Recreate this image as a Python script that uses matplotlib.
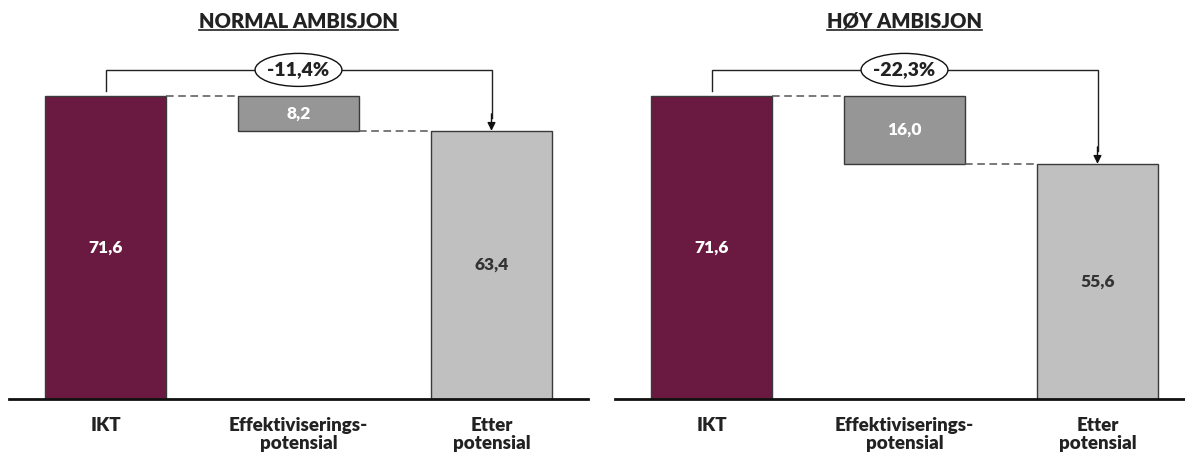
import matplotlib.pyplot as plt
from matplotlib.patches import Ellipse
from matplotlib.lines import Line2D

plt.rcParams['font.family'] = ['Lato', 'DejaVu Sans']
plt.rcParams['font.weight'] = 'heavy'

categories = ['IKT', 'Effektiviserings-\npotensial', 'Etter\npotensial']
panels = ['NORMAL AMBISJON', 'HØY AMBISJON']
start_values = [71.6, 71.6]
savings = [8.2, 16.0]
end_values = [63.4, 55.6]
change_labels = ['-11,4%', '-22,3%']

COL_START = '#6a1a40'
COL_SAVE = '#969696'
COL_END = '#c0c0c0'
EDGE = '#3a3a3a'
W = 0.627
UNITS_PER_PX = 1 / 4.23


def fmt(v):
    return ('%.1f' % v).replace('.', ',')


def draw_waterfall(ax, title, start, save, end, change):
    ax.bar(0, start, W, color=COL_START, edgecolor=EDGE, linewidth=1)
    ax.bar(1, save, W, bottom=end, color=COL_SAVE, edgecolor=EDGE, linewidth=1)
    ax.bar(2, end, W, color=COL_END, edgecolor=EDGE, linewidth=1)

    # value labels
    ax.text(0, start / 2, fmt(start), color='white', ha='center', va='center', fontsize=12.5)
    ax.text(1, end + save / 2, fmt(save), color='white', ha='center', va='center', fontsize=12.5)
    ax.text(2, end / 2, fmt(end), color='#333333', ha='center', va='center', fontsize=12.5)

    # dashed connectors between bars
    ax.plot([W / 2, 1 - W / 2], [start, start], ls=(0, (5, 3)), color='#555555', lw=1.1)
    ax.plot([1 + W / 2, 2 - W / 2], [end, end], ls=(0, (5, 3)), color='#555555', lw=1.1)

    # bracket with arrow showing the relative change
    top = 77.8
    ax.plot([0, 0, 2, 2], [start + 1.2, top, top, end + 3], color='#222222', lw=1,
            solid_joinstyle='miter')
    ax.annotate('', xy=(2, end), xytext=(2, end + 4),
                arrowprops=dict(arrowstyle='-|>', color='#111111', lw=1,
                                mutation_scale=12, shrinkA=0, shrinkB=0))
    ax.add_patch(Ellipse((1, top), 0.45, 33 * UNITS_PER_PX, facecolor='white',
                         edgecolor='#111111', lw=1, zorder=5))
    ax.text(1, top, change, ha='center', va='center', fontsize=14,
            color='#222222', zorder=6)

    ax.set_xlim(-0.5, 2.5)
    ax.set_ylim(0, 381 * UNITS_PER_PX)
    ax.set_xticks(range(3))
    ax.set_xticklabels(categories, fontsize=13.5, color='#222222', linespacing=1.1)
    ax.tick_params(axis='x', length=0, pad=13)
    ax.set_yticks([])
    for side in ['left', 'right', 'top']:
        ax.spines[side].set_visible(False)
    ax.spines['bottom'].set_linewidth(2)
    ax.spines['bottom'].set_color('#111111')
    ax.set_title(title, fontsize=14.5, fontweight='heavy', color='#222222', pad=0, y=0.974)


fig = plt.figure(figsize=(11.85, 4.55), dpi=100)
fig_w, fig_h = 1185, 455
axes = [fig.add_axes([9 / fig_w, 1 - 399 / fig_h, 579 / fig_w, 381 / fig_h]),
        fig.add_axes([615 / fig_w, 1 - 399 / fig_h, 579 / fig_w, 381 / fig_h])]

titles = []
for ax, title, s, sv, e, ch in zip(axes, panels, start_values, savings, end_values, change_labels):
    draw_waterfall(ax, title, s, sv, e, ch)
    titles.append(ax.title)

# underline the panel titles
fig.canvas.draw()
renderer = fig.canvas.get_renderer()
for t in titles:
    bb = t.get_window_extent(renderer).transformed(fig.transFigure.inverted())
    y = bb.y0 + 0.002
    fig.add_artist(Line2D([bb.x0, bb.x1], [y, y], transform=fig.transFigure,
                          color='#222222', lw=1.2))

fig.savefig('out.png', dpi=100)
